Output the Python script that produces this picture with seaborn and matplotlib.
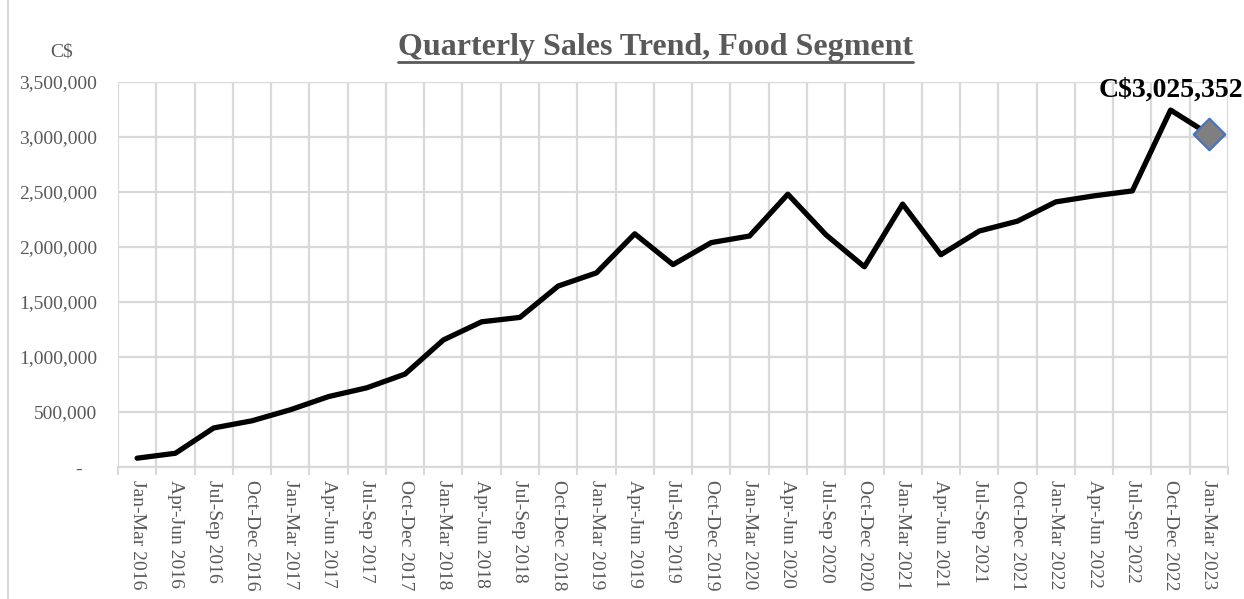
import matplotlib
matplotlib.use("Agg")
import matplotlib.pyplot as plt
import seaborn as sns
import pandas as pd
import numpy as np
from matplotlib.ticker import FixedLocator, FuncFormatter
from matplotlib.lines import Line2D

quarters = [
    "Jan-Mar 2016", "Apr-Jun 2016", "Jul-Sep 2016", "Oct-Dec 2016",
    "Jan-Mar 2017", "Apr-Jun 2017", "Jul-Sep 2017", "Oct-Dec 2017",
    "Jan-Mar 2018", "Apr-Jun 2018", "Jul-Sep 2018", "Oct-Dec 2018",
    "Jan-Mar 2019", "Apr-Jun 2019", "Jul-Sep 2019", "Oct-Dec 2019",
    "Jan-Mar 2020", "Apr-Jun 2020", "Jul-Sep 2020", "Oct-Dec 2020",
    "Jan-Mar 2021", "Apr-Jun 2021", "Jul-Sep 2021", "Oct-Dec 2021",
    "Jan-Mar 2022", "Apr-Jun 2022", "Jul-Sep 2022", "Oct-Dec 2022",
    "Jan-Mar 2023",
]
sales = [
    80000, 125000, 355000, 420000,
    520000, 640000, 720000, 845000,
    1155000, 1320000, 1360000, 1645000,
    1765000, 2120000, 1840000, 2040000,
    2100000, 2480000, 2110000, 1820000,
    2390000, 1930000, 2145000, 2235000,
    2410000, 2465000, 2510000, 3245000,
    3025352,
]
y_ticks = [0, 500000, 1000000, 1500000, 2000000, 2500000, 3000000, 3500000]
title_text = "Quarterly Sales Trend, Food Segment"
unit_text = "C$"
last_label = "C$3,025,352"

df = pd.DataFrame({"quarter": quarters, "sales": sales})
df["pos"] = np.arange(len(df))

sns.set_theme(style="white")
plt.rcParams["font.family"] = ["Liberation Serif", "DejaVu Serif"]

grey_txt = "#595959"
grid_c = "#d9d9d9"

fig = plt.figure(figsize=(12.44, 5.99), dpi=100)
ax = fig.add_axes([118 / 1244, 1 - 467 / 599, (1228 - 118) / 1244, (467 - 82) / 599])

sns.lineplot(data=df, x="pos", y="sales", ax=ax, color="black", linewidth=3.8,
             solid_joinstyle="round", solid_capstyle="round", zorder=3)
last = df.iloc[-1]
sns.scatterplot(x=[last["pos"]], y=[last["sales"]], ax=ax, marker="D", s=260,
                color="#7f7f7f", edgecolor="#4472C4", linewidth=1.5, zorder=4)

n = len(df)
ax.set_xlim(-0.5, n - 0.5)
ax.set_ylim(0, 3500000)
ax.xaxis.set_major_locator(FixedLocator(df["pos"].tolist()))
ax.set_xticklabels(quarters, rotation=270, fontsize=14, color=grey_txt)
ax.xaxis.set_minor_locator(FixedLocator(list(np.arange(-0.5, n, 1.0))))
ax.tick_params(axis="x", which="major", length=0, pad=9)
ax.tick_params(axis="x", which="minor", length=6, color=grid_c, width=1.5, bottom=True)
ax.yaxis.set_major_locator(FixedLocator(y_ticks))
ax.yaxis.set_major_formatter(FuncFormatter(lambda v, p: "-   " if v == 0 else f"{int(v):,}"))
ax.tick_params(axis="y", length=0, labelsize=14, labelcolor=grey_txt, pad=15)

ax.grid(True, axis="y", which="major", color=grid_c, linewidth=1.6)
ax.grid(True, axis="x", which="minor", color=grid_c, linewidth=1.6)
ax.grid(False, axis="x", which="major")
for s in ["top", "right", "left"]:
    ax.spines[s].set_visible(False)
ax.spines["bottom"].set_color(grid_c)
ax.spines["bottom"].set_linewidth(1.6)
ax.set_xlabel("")
ax.set_ylabel("")

ax.annotate(last_label, xy=(last["pos"], last["sales"]), xytext=(-27, 32),
            textcoords="offset points", ha="center", va="center",
            fontsize=20, fontweight="bold", color="black")

fig.text(62 / 1244, 1 - 52 / 599, unit_text, ha="center", va="center",
         fontsize=14, color=grey_txt)
t = fig.text(655 / 1244, 1 - 47 / 599, title_text, ha="center", va="center",
             fontsize=23, fontweight="bold", color=grey_txt)

# chart border line at left
fig.add_artist(Line2D([8 / 1244, 8 / 1244], [0, 1], transform=fig.transFigure,
                      color=grid_c, linewidth=1.5))

fig.canvas.draw()
bb = t.get_window_extent().transformed(fig.transFigure.inverted())
fig.add_artist(Line2D([bb.x0, bb.x1], [1 - 62 / 599, 1 - 62 / 599],
                      transform=fig.transFigure, color=grey_txt, linewidth=2))

fig.savefig("out.png", dpi=100)
